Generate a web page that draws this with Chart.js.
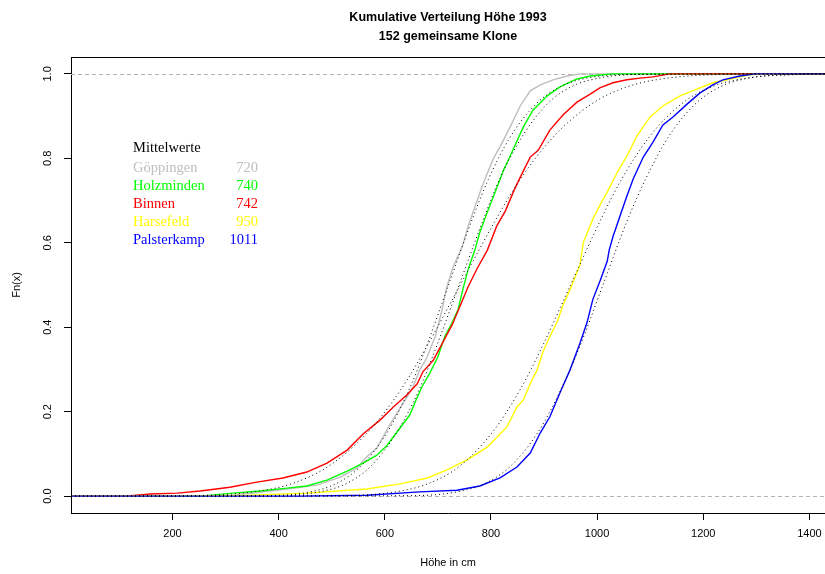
<!DOCTYPE html>
<html>
<head>
<meta charset="utf-8">
<script src="https://cdn.jsdelivr.net/npm/chart.js@4/dist/chart.umd.min.js"></script>
<style>
  html, body { margin: 0; padding: 0; background: #ffffff; overflow: hidden; }
  canvas { display: block; }
</style>
</head>
<body>
<canvas id="c" width="825" height="574"></canvas>
<script>
// Locations, their mean heights and line colours
const locations   = ['Göppingen', 'Holzminden', 'Binnen', 'Harsefeld', 'Palsterkamp'];
const meanHeights = [720, 740, 742, 950, 1011];
const lineColors  = ['#BEBEBE', '#00FF00', '#FF0000', '#FFFF00', '#0000FF'];

// Empirical cumulative distribution per location: height (cm) and Fn(x)
const goeppingenX = [233, 314, 416, 472, 516, 548, 566, 585, 604, 623, 642, 653, 666, 680, 695, 708, 717, 729, 746, 757, 770, 785, 804, 817, 836, 855, 874, 893, 917, 943, 968, 977];
const goeppingenF = [0, 0.002, 0.017, 0.026, 0.045, 0.067, 0.093, 0.114, 0.157, 0.197, 0.235, 0.259, 0.299, 0.330, 0.378, 0.442, 0.496, 0.544, 0.591, 0.639, 0.686, 0.739, 0.798, 0.827, 0.874, 0.924, 0.960, 0.974, 0.986, 0.995, 1.0, 1.0];

const holzmindenX = [252, 314, 365, 416, 453, 491, 529, 559, 585, 604, 629, 647, 659, 670, 685, 700, 713, 725, 738, 747, 757, 770, 779, 793, 808, 823, 836, 849, 861, 879, 906, 930, 962, 987, 1030];
const holzmindenF = [0, 0.007, 0.012, 0.019, 0.024, 0.038, 0.059, 0.078, 0.097, 0.120, 0.162, 0.192, 0.228, 0.259, 0.292, 0.330, 0.378, 0.406, 0.442, 0.489, 0.537, 0.584, 0.625, 0.672, 0.720, 0.770, 0.805, 0.841, 0.874, 0.914, 0.948, 0.969, 0.988, 0.995, 1.0];

const binnenX = [111, 158, 209, 252, 308, 359, 408, 453, 491, 529, 559, 591, 616, 642, 661, 672, 691, 710, 727, 742, 757, 774, 793, 811, 827, 842, 855, 874, 889, 911, 936, 962, 987, 1005, 1030, 1056, 1081, 1105, 1137];
const binnenF = [0, 0.005, 0.007, 0.012, 0.021, 0.033, 0.043, 0.057, 0.078, 0.109, 0.147, 0.180, 0.211, 0.240, 0.266, 0.295, 0.321, 0.366, 0.406, 0.451, 0.496, 0.539, 0.582, 0.640, 0.675, 0.720, 0.755, 0.803, 0.819, 0.867, 0.903, 0.933, 0.952, 0.967, 0.979, 0.986, 0.990, 0.993, 1.0];

const harsefeldX = [205, 346, 453, 566, 629, 680, 717, 755, 793, 817, 830, 849, 861, 874, 887, 898, 911, 925, 936, 949, 968, 974, 992, 1006, 1019, 1038, 1056, 1075, 1100, 1124, 1156, 1188, 1218, 1245, 1275, 1301];
const harsefeldF = [0, 0.002, 0.007, 0.017, 0.029, 0.043, 0.062, 0.086, 0.116, 0.147, 0.164, 0.211, 0.228, 0.266, 0.299, 0.342, 0.378, 0.413, 0.454, 0.489, 0.549, 0.601, 0.656, 0.691, 0.720, 0.767, 0.805, 0.853, 0.898, 0.924, 0.948, 0.964, 0.979, 0.986, 0.995, 1.0];

const palsterkampX = [440, 566, 666, 736, 779, 817, 849, 874, 893, 911, 930, 949, 968, 981, 992, 1006, 1019, 1023, 1030, 1043, 1056, 1068, 1087, 1105, 1124, 1143, 1170, 1194, 1218, 1237, 1269, 1298];
const palsterkampF = [0, 0.002, 0.010, 0.014, 0.024, 0.043, 0.069, 0.102, 0.150, 0.188, 0.245, 0.299, 0.363, 0.411, 0.466, 0.511, 0.556, 0.584, 0.615, 0.663, 0.710, 0.751, 0.803, 0.838, 0.879, 0.898, 0.929, 0.955, 0.974, 0.986, 0.995, 1.0];

// Fitted normal distribution curves (dotted): heights at shared probability levels
const normalLevels    = [0.001, 0.01, 0.03, 0.07, 0.15, 0.25, 0.35, 0.5, 0.65, 0.75, 0.85, 0.93, 0.97, 0.99, 0.999];
const goeppingenNormX = [374, 459, 509, 554, 604, 645, 677, 720, 763, 795, 836, 886, 931, 981, 1066];
const holzmindenNormX = [391, 477, 528, 573, 622, 664, 696, 740, 784, 816, 858, 907, 952, 1003, 1089];
const binnenNormX     = [223, 351, 426, 493, 567, 629, 677, 742, 807, 855, 917, 991, 1058, 1133, 1261];
const harsefeldNormX  = [511, 619, 683, 740, 802, 854, 895, 950, 1005, 1046, 1098, 1160, 1217, 1281, 1389];
const palsterkampNormX = [646, 736, 789, 836, 888, 931, 966, 1011, 1056, 1091, 1134, 1186, 1233, 1286, 1376];

// Axes
const xMin = 8.7, xMax = 1429.4;
const yMin = -0.04, yMax = 1.04;
const xTicks = [200, 400, 600, 800, 1000, 1200, 1400];
const yTicks = [0, 0.2, 0.4, 0.6, 0.8, 1.0];
const yTickLabels = ['0.0', '0.2', '0.4', '0.6', '0.8', '1.0'];

const titleLines = ['Kumulative Verteilung Höhe 1993', '152 gemeinsame Klone'];
const xTitle = 'Höhe in cm';
const yTitle = 'Fn(x)';
const legendHeader = 'Mittelwerte';

const ecdfX = [goeppingenX, holzmindenX, binnenX, harsefeldX, palsterkampX];
const ecdfF = [goeppingenF, holzmindenF, binnenF, harsefeldF, palsterkampF];
const normX = [goeppingenNormX, holzmindenNormX, binnenNormX, harsefeldNormX, palsterkampNormX];

// ECDF lines run flat at 0 from the left edge and flat at 1 to the right edge
function ecdfPoints(xs, fs) {
  const pts = [{ x: xMin, y: 0 }];
  xs.forEach((x, i) => pts.push({ x: x, y: fs[i] }));
  pts.push({ x: xMax, y: 1 });
  return pts;
}
function normalPoints(xs) {
  const pts = [{ x: xMin, y: 0 }];
  xs.forEach((x, i) => pts.push({ x: x, y: normalLevels[i] }));
  pts.push({ x: xMax, y: 1 });
  return pts;
}

const datasets = [];
// dotted curves first so they are painted above the coloured lines
normX.forEach((xs, i) => {
  datasets.push({
    label: locations[i] + ' (Normal)',
    data: normalPoints(xs),
    borderColor: '#000000',
    borderWidth: 1,
    borderDash: [1, 3],
    pointRadius: 0,
    fill: false,
    cubicInterpolationMode: 'monotone'
  });
});
for (let i = ecdfX.length - 1; i >= 0; i--) {
  datasets.push({
    label: locations[i],
    data: ecdfPoints(ecdfX[i], ecdfF[i]),
    borderColor: lineColors[i],
    borderWidth: 1.4,
    pointRadius: 0,
    fill: false,
    tension: 0
  });
}

const SANS = '"Liberation Sans", Arial, sans-serif';
const SERIF = '"Liberation Serif", "Times New Roman", serif';

const decorations = {
  id: 'decorations',
  beforeDatasetsDraw(chart) {
    const { ctx, chartArea, scales } = chart;
    ctx.save();
    ctx.strokeStyle = '#B3B3B3';
    ctx.lineWidth = 1;
    ctx.setLineDash([4, 3]);
    [0, 1].forEach(v => {
      const y = Math.round(scales.y.getPixelForValue(v)) + 0.5;
      ctx.beginPath();
      ctx.moveTo(chartArea.left, y);
      ctx.lineTo(chartArea.right, y);
      ctx.stroke();
    });
    ctx.restore();
  },
  afterDraw(chart) {
    const { ctx, chartArea, scales } = chart;
    ctx.save();
    // top border of the plot box
    ctx.strokeStyle = '#000000';
    ctx.lineWidth = 1;
    ctx.beginPath();
    ctx.moveTo(chartArea.left, Math.round(chartArea.top) + 0.5);
    ctx.lineTo(chartArea.right, Math.round(chartArea.top) + 0.5);
    ctx.stroke();

    const cx = (chartArea.left + chartArea.right) / 2;
    // title
    ctx.fillStyle = '#000000';
    ctx.textAlign = 'center';
    ctx.textBaseline = 'middle';
    ctx.font = 'bold 12.5px ' + SANS;
    ctx.fillText(titleLines[0], cx, 18);
    ctx.fillText(titleLines[1], cx, 37);

    // axis titles
    ctx.font = '11px ' + SANS;
    ctx.fillText(xTitle, cx, 563);
    ctx.save();
    ctx.translate(17, (chartArea.top + chartArea.bottom) / 2);
    ctx.rotate(-Math.PI / 2);
    ctx.fillText(yTitle, 0, 0);
    ctx.restore();

    // y tick labels, rotated
    yTicks.forEach((v, i) => {
      ctx.save();
      ctx.translate(48, scales.y.getPixelForValue(v));
      ctx.rotate(-Math.PI / 2);
      ctx.fillText(yTickLabels[i], 0, 0);
      ctx.restore();
    });

    // legend of means
    ctx.font = '14.5px ' + SERIF;
    ctx.textAlign = 'left';
    ctx.fillStyle = '#000000';
    ctx.fillText(legendHeader, 133, 148);
    locations.forEach((name, i) => {
      const y = 168 + i * 18;
      ctx.fillStyle = lineColors[i];
      ctx.textAlign = 'left';
      ctx.fillText(name, 133, y);
      ctx.textAlign = 'right';
      ctx.fillText(String(meanHeights[i]), 258, y);
    });
    ctx.restore();
  }
};

new Chart(document.getElementById('c'), {
  type: 'line',
  data: { datasets: datasets },
  plugins: [decorations],
  options: {
    responsive: false,
    animation: false,
    layout: { padding: { left: 0, right: 0, top: 57, bottom: 0 } },
    plugins: { legend: { display: false }, tooltip: { enabled: false }, title: { display: false } },
    scales: {
      x: {
        type: 'linear',
        min: xMin,
        max: xMax,
        afterBuildTicks: s => { s.ticks = xTicks.map(v => ({ value: v })); },
        afterFit: s => { s.height = 61; s.paddingLeft = 0; s.paddingRight = 0; },
        ticks: {
          autoSkip: false, maxRotation: 0, minRotation: 0,
          color: '#000000', padding: 7,
          font: { family: SANS, size: 11 },
          callback: v => String(v)
        },
        grid: { display: true, drawOnChartArea: false, drawTicks: true, tickLength: 7, color: '#000000' },
        border: { display: true, color: '#000000', width: 1 }
      },
      y: {
        type: 'linear',
        min: yMin,
        max: yMax,
        afterBuildTicks: s => { s.ticks = yTicks.map(v => ({ value: v })); },
        afterFit: s => { s.width = 71; s.paddingTop = 0; s.paddingBottom = 0; },
        ticks: { display: false },
        grid: { display: true, drawOnChartArea: false, drawTicks: true, tickLength: 7, color: '#000000' },
        border: { display: true, color: '#000000', width: 1 }
      }
    }
  }
});
</script>
</body>
</html>
